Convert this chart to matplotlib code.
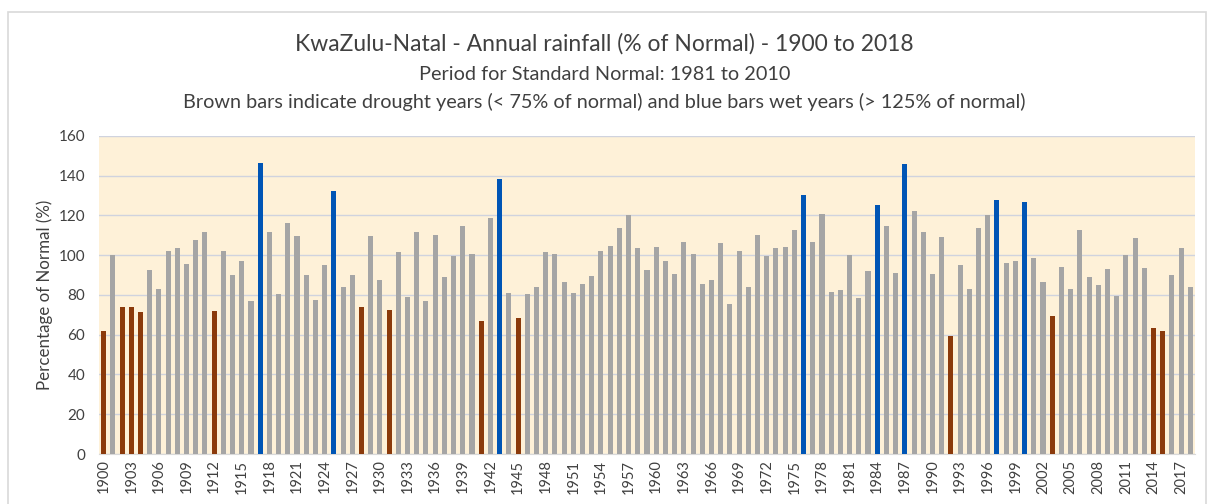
import matplotlib.pyplot as plt
from matplotlib.patches import Rectangle
import numpy as np

plt.rcParams['font.family'] = ['Lato', 'DejaVu Sans']

years = list(range(1900, 2019))
rainfall = [
    62.1, 100, 74.2, 74.2, 71.2, 92.5, 83.2, 102, 103.4, 95.5,
    107.7, 111.9, 72, 102.3, 90, 97.2, 77.2, 146.4, 111.9, 80.4,
    116.2, 109.7, 90, 77.7, 95.1, 132.5, 83.8, 90, 74.2, 109.9,
    87.6, 72.5, 101.5, 78.9, 111.9, 77.2, 110.2, 89.1, 99.8, 114.6,
    100.8, 66.8, 118.6, 138.5, 81.2, 68.2, 80.4, 83.8, 101.5, 100.7,
    86.3, 81.2, 85.4, 89.4, 102, 104.5, 113.6, 120.1, 103.4, 92.8,
    104.2, 97.2, 90.8, 106.7, 100.7, 85.4, 87.6, 106.4, 75.5, 102,
    84.1, 110.2, 99.5, 103.4, 104.2, 112.9, 130.5, 106.7, 120.9, 81.6,
    82.4, 100.3, 78.6, 92, 125.5, 114.9, 91.1, 145.9, 122.4, 111.9,
    90.8, 109.4, 59.6, 95.1, 83.2, 113.6, 120.3, 127.6, 96, 97.2,
    126.8, 98.5, 86.3, 69.3, 94.3, 83.2, 112.9, 89.1, 84.8, 93.3,
    79.6, 100.3, 108.9, 93.8, 63.3, 62.1, 90, 103.4, 84.1,
]
y_ticks = [0, 20, 40, 60, 80, 100, 120, 140, 160]

GREY = '#A5A5A5'
BROWN = '#8B3A0B'
BLUE = '#0055B5'
TEXT = '#404040'


def bar_colour(v):
    if v < 75:
        return BROWN
    if v > 125:
        return BLUE
    return GREY


fig = plt.figure(figsize=(12.09, 5.04), dpi=100)
ax = fig.add_axes([0.0819, 0.0992, 0.9065, 0.6310])

# outer chart border like the Excel chart area
fig.patches.append(Rectangle((8 / 1209, -0.05), 1198 / 1209, 1.05 - 12 / 504,
                             transform=fig.transFigure, fill=False,
                             edgecolor='#D9D9D9', linewidth=1.2))

x = np.arange(len(years))
ax.bar(x, rainfall, width=0.55, color=[bar_colour(v) for v in rainfall],
       zorder=3)

ax.set_facecolor('#FEF1D8')
ax.set_xlim(-0.5, len(years) - 0.5)
ax.set_ylim(0, 160)
ax.set_yticks(y_ticks)
ax.yaxis.grid(True, color='#D0D3DE', linewidth=1.0, zorder=0)
ax.tick_params(axis='y', length=0, labelsize=11, labelcolor=TEXT, pad=10)

ax.set_xticks(x[::3])
ax.set_xticklabels([str(y) for y in years[::3]], rotation=90)
ax.tick_params(axis='x', length=0, labelsize=10.5, labelcolor=TEXT, pad=4)

for side in ['top', 'right', 'left']:
    ax.spines[side].set_visible(False)
ax.spines['bottom'].set_color('#D9D9D9')

ax.set_ylabel('Percentage of Normal (%)', fontsize=12.2, color=TEXT,
              labelpad=4)

fig.text(0.5, 1 - 44 / 504, 'KwaZulu-Natal - Annual rainfall (% of Normal) - 1900 to 2018',
         ha='center', va='center', fontsize=16.5, color=TEXT)
fig.text(0.5, 1 - 74 / 504, 'Period for Standard Normal: 1981 to 2010',
         ha='center', va='center', fontsize=14.3, color=TEXT)
fig.text(0.5, 1 - 102 / 504,
         'Brown bars indicate drought years (< 75% of normal) and blue bars wet years (> 125% of normal)',
         ha='center', va='center', fontsize=14.3, color=TEXT)

fig.savefig('out.png', dpi=100)
